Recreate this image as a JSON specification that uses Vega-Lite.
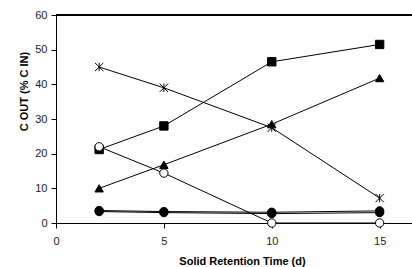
{
  "$schema": "https://vega.github.io/schema/vega-lite/v6.json",
  "width": 356,
  "height": 208,
  "autosize": {"type": "none"},
  "padding": {"left": 56, "top": 15, "right": 0, "bottom": 44},
  "background": "white",
  "config": {
    "view": {"stroke": null},
    "font": "Liberation Sans",
    "axis": {
      "domainColor": "black",
      "tickColor": "black",
      "grid": false,
      "labelFont": "Liberation Sans",
      "labelFontSize": 11,
      "labelColor": "#222",
      "labelFlush": false,
      "titleFont": "Liberation Sans",
      "titleFontSize": 11,
      "titleFontWeight": "bold",
      "titleColor": "black",
      "tickSize": 5
    },
    "axisX": {"titleX": 186, "titleY": 32, "titleAlign": "center", "labelPadding": 7},
    "axisY": {"titleX": -27, "titleY": 76, "titleAlign": "center", "labelPadding": 4}
  },
  "data": {
    "values": [
      {"srt": 2, "c": 21.2, "s": "A"},
      {"srt": 5, "c": 28, "s": "A"},
      {"srt": 10, "c": 46.5, "s": "A"},
      {"srt": 15, "c": 51.5, "s": "A"},
      {"srt": 2, "c": 10, "s": "B"},
      {"srt": 5, "c": 16.8, "s": "B"},
      {"srt": 10, "c": 28.5, "s": "B"},
      {"srt": 15, "c": 41.8, "s": "B"},
      {"srt": 2, "c": 45, "s": "C"},
      {"srt": 5, "c": 39, "s": "C"},
      {"srt": 10, "c": 27.5, "s": "C"},
      {"srt": 15, "c": 7.2, "s": "C"},
      {"srt": 2, "c": 22, "s": "D"},
      {"srt": 5, "c": 14.4, "s": "D"},
      {"srt": 10, "c": 0, "s": "D"},
      {"srt": 15, "c": 0, "s": "D"},
      {"srt": 2, "c": 3.3, "s": "F"},
      {"srt": 5, "c": 3.0, "s": "F"},
      {"srt": 10, "c": 2.7, "s": "F"},
      {"srt": 15, "c": 3.0, "s": "F"},
      {"srt": 2, "c": 3.6, "s": "E"},
      {"srt": 5, "c": 3.3, "s": "E"},
      {"srt": 10, "c": 3.1, "s": "E"},
      {"srt": 15, "c": 3.5, "s": "E"}
    ]
  },
  "layer": [
    {
      "mark": {"type": "line", "color": "black", "strokeWidth": 1},
      "encoding": {
        "x": {
          "field": "srt", "type": "quantitative",
          "scale": {"domain": [0, 16.5], "nice": false},
          "axis": {"values": [0, 5, 10, 15], "title": "Solid Retention Time (d)"}
        },
        "y": {
          "field": "c", "type": "quantitative",
          "scale": {"domain": [0, 60], "nice": false},
          "axis": {"tickCount": 6, "labelOverlap": false, "title": "C OUT (% C IN)"}
        },
        "detail": {"field": "s"}
      }
    },
    {
      "mark": {"type": "point", "stroke": "black", "strokeWidth": 1, "opacity": 1, "filled": false},
      "encoding": {
        "x": {"field": "srt", "type": "quantitative"},
        "y": {"field": "c", "type": "quantitative"},
        "shape": {
          "field": "s", "type": "nominal", "legend": null,
          "scale": {
            "domain": ["A", "B", "C", "D", "E", "F"],
            "range": ["square", "triangle-up", "M-1,-1L1,1M-1,1L1,-1M0,-1L0,1", "circle", "circle", "circle"]
          }
        },
        "fill": {
          "field": "s", "type": "nominal", "legend": null,
          "scale": {
            "domain": ["A", "B", "C", "D", "E", "F"],
            "range": ["black", "black", "transparent", "white", "black", "black"]
          }
        },
        "size": {
          "field": "s", "type": "nominal", "legend": null,
          "scale": {
            "domain": ["A", "B", "C", "D", "E", "F"],
            "range": [70, 70, 70, 80, 80, 80]
          }
        }
      }
    },
    {
      "mark": {"type": "rule", "color": "black", "strokeWidth": 1},
      "encoding": {"y": {"datum": 60, "type": "quantitative"}}
    }
  ]
}
